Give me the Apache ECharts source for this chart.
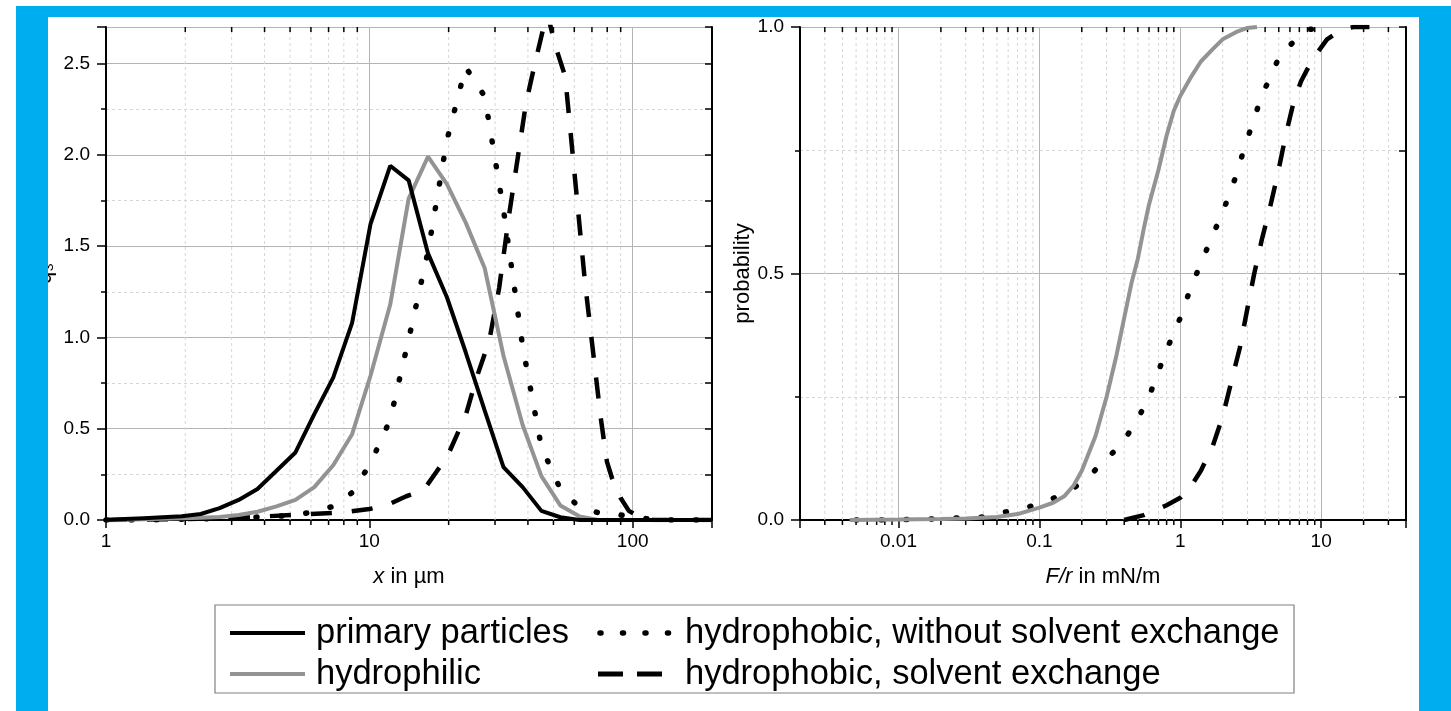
<!DOCTYPE html>
<html><head><meta charset="utf-8">
<script src="https://cdn.jsdelivr.net/npm/echarts@6/dist/echarts.min.js"></script>
<style>html,body{margin:0;padding:0;background:#fff}#c{width:1451px;height:711px}</style>
</head><body><div id="c"></div>
<script>
// ---- left panel: particle size distributions q3(x) ----
const sizeClasses = [1.00,1.18,1.39,1.64,1.94,2.29,2.70,3.19,3.76,4.44,5.24,6.18,7.29,8.60,10.1,12.0,14.1,16.7,19.7,23.2,27.4,32.3,38.2,45.0,53.1,62.7,74.0,87.3,103,122,144,170,200];
const q3Primary     = [0,0.005,0.01,0.015,0.02,0.033,0.065,0.11,0.17,0.27,0.37,0.58,0.78,1.08,1.62,1.94,1.86,1.46,1.22,0.92,0.60,0.29,0.18,0.05,0.015,0,0,0,0,0,0,0,0];
const q3Hydrophilic = [0,0.002,0.004,0.007,0.01,0.013,0.016,0.027,0.045,0.075,0.11,0.18,0.30,0.47,0.79,1.18,1.76,1.99,1.84,1.63,1.38,0.90,0.52,0.24,0.08,0.02,0,0,0,0,0,0,0];
const q3NoExchange  = [0,0,0,0.002,0.004,0.006,0.008,0.012,0.016,0.02,0.028,0.045,0.075,0.15,0.31,0.55,0.99,1.47,2.08,2.48,2.32,1.70,0.95,0.40,0.17,0.07,0.04,0.03,0.015,0,0,0,0];
const sizesExchange = [1.0,1.94,3.19,5.44,7.71,10.0,11.6,13.8,16.0,17.9,19.8,23.3,25.4,28.5,31.1,34.0,37.1,39.3,42.2,47.3,51.0,55.4,65.9,75.6,79.8,83.4,90.0,96.7,108,120,200];
const q3Exchange    = [0,0.005,0.012,0.03,0.04,0.06,0.08,0.13,0.16,0.26,0.35,0.58,0.77,0.98,1.27,1.68,2.04,2.28,2.48,2.78,2.59,2.43,1.30,0.56,0.32,0.23,0.12,0.05,0.01,0,0];

// ---- right panel: cumulative adhesion force distributions ----
const forceHydrophilic = [0.0045,0.01,0.02,0.03,0.05,0.07,0.1,0.125,0.15,0.175,0.2,0.25,0.3,0.35,0.4,0.45,0.5,0.55,0.6,0.7,0.8,0.9,1.0,1.2,1.4,1.7,2.0,2.5,3.0,3.5];
const probHydrophilic  = [0,0.001,0.002,0.003,0.006,0.012,0.025,0.035,0.048,0.07,0.10,0.17,0.25,0.33,0.41,0.48,0.53,0.59,0.64,0.71,0.78,0.83,0.86,0.90,0.93,0.955,0.975,0.99,0.998,1.0];
const forceNoExchange  = [0.005,0.008,0.012,0.017,0.026,0.04,0.055,0.08,0.11,0.17,0.22,0.29,0.38,0.49,0.6,0.74,0.87,1.0,1.15,1.35,1.6,1.9,2.2,2.5,2.75,3.05,3.45,3.75,4.5,5.1,7.0,7.8,11];
const probNoExchange   = [0,0,0.001,0.002,0.004,0.006,0.015,0.025,0.036,0.062,0.086,0.12,0.153,0.20,0.25,0.32,0.37,0.41,0.46,0.51,0.56,0.61,0.655,0.70,0.74,0.78,0.825,0.86,0.905,0.945,0.98,0.994,1.0];
const forceExchange    = [0.4,0.55,0.8,1.0,1.2,1.4,1.7,2.0,2.3,2.65,3.0,3.35,3.8,4.3,4.9,5.6,6.4,7.2,8.0,9.5,11,14,17,22];
const probExchange     = [0,0.01,0.03,0.045,0.07,0.10,0.15,0.21,0.28,0.35,0.43,0.50,0.57,0.63,0.70,0.78,0.85,0.89,0.915,0.95,0.975,0.995,1.0,1.0];

// minor (2..9 per decade) tick values for the log axes
const minorTicksLeft  = [2,3,4,5,6,7,8,9,20,30,40,50,60,70,80,90];
const minorTicksRight = [0.003,0.004,0.005,0.006,0.007,0.008,0.009,0.02,0.03,0.04,0.05,0.06,0.07,0.08,0.09,0.2,0.3,0.4,0.5,0.6,0.7,0.8,0.9,2,3,4,5,6,7,8,9,20,30];

const names = ['primary particles','hydrophilic','hydrophobic, without solvent exchange','hydrophobic, solvent exchange'];

const FONT = "'Liberation Sans', Arial, sans-serif";
const BLACK = '#000';
const GRAY = '#939393';
const zip = (a, b) => a.map((v, i) => [v, b[i]]);

function minorRender(yMax) {
  return function (params, api) {
    const x = api.value(0);
    const pb = api.coord([x, 0]);
    const pt = api.coord([x, yMax]);
    return { type: 'group', children: [
      { type: 'line', shape: { x1: pb[0], y1: pb[1], x2: pt[0], y2: pt[1] }, style: { stroke: '#d6d6d6', lineWidth: 1, lineDash: [3, 3] } },
      { type: 'line', shape: { x1: pb[0], y1: pb[1], x2: pb[0], y2: pb[1] + 5 }, style: { stroke: BLACK, lineWidth: 1.5 } },
      { type: 'line', shape: { x1: pt[0], y1: pt[1], x2: pt[0], y2: pt[1] + 5 }, style: { stroke: BLACK, lineWidth: 1.5 } }
    ]};
  };
}

const axisLineStyle = { show: true, lineStyle: { color: BLACK, width: 2 } };
const labelStyle = { color: BLACK, fontSize: 19, fontFamily: FONT };
const nameStyle = { color: BLACK, fontSize: 22, fontFamily: FONT, rich: { i: { fontStyle: 'italic', fontSize: 22, fontFamily: FONT, color: BLACK } } };
const majorSplit = { show: true, lineStyle: { color: '#b4b4b4', width: 1 } };
const minorSplit = { show: true, lineStyle: { color: '#d6d6d6', width: 1, type: [3, 3] } };

function bottomLog(gridIndex, min, max, name) {
  return { type: 'log', logBase: 10, gridIndex, min, max, position: 'bottom',
    name, nameLocation: 'middle', nameGap: 46, nameTextStyle: nameStyle,
    axisLine: axisLineStyle, axisTick: { show: true, inside: false, length: 8, lineStyle: { color: BLACK, width: 1.5 } },
    axisLabel: { ...labelStyle, margin: 12, showMinLabel: gridIndex === 0, showMaxLabel: false },
    splitLine: majorSplit, minorTick: { show: false }, minorSplitLine: { show: false } };
}
function topLog(gridIndex, min, max) {
  return { type: 'log', logBase: 10, gridIndex, min, max, position: 'top',
    axisLine: axisLineStyle, axisTick: { show: true, inside: true, length: 8, lineStyle: { color: BLACK, width: 1.5 } },
    axisLabel: { show: false }, splitLine: { show: false } };
}
function leftVal(gridIndex, max, name, nameGap) {
  return { type: 'value', gridIndex, min: 0, max, interval: 0.5, position: 'left',
    name, nameLocation: 'middle', nameGap, nameTextStyle: nameStyle,
    axisLine: axisLineStyle, axisTick: { show: true, inside: false, length: 9, lineStyle: { color: BLACK, width: 1.5 } },
    minorTick: { show: true, splitNumber: 2, length: 5, lineStyle: { color: BLACK, width: 1.5 } },
    axisLabel: { ...labelStyle, margin: 16, showMaxLabel: max === 1, formatter: v => v.toFixed(1) },
    splitLine: majorSplit, minorSplitLine: minorSplit };
}
function rightVal(gridIndex, max) {
  return { type: 'value', gridIndex, min: 0, max, interval: 0.25, position: 'right',
    axisLine: axisLineStyle, axisTick: { show: true, inside: true, length: 7, lineStyle: { color: BLACK, width: 1.5 } },
    axisLabel: { show: false }, splitLine: { show: false } };
}

const solidBlack = { color: BLACK, width: 4 };
const solidGray = { color: GRAY, width: 4 };
const dotted = { color: BLACK, width: 5.5, type: [1, 24], cap: 'round' };
const dashed = { color: BLACK, width: 4.5, type: [21, 20], cap: 'butt' };

function lineSeries(name, data, xi, yi, style) {
  return { type: 'line', name, data, xAxisIndex: xi, yAxisIndex: yi, showSymbol: false, symbol: 'none',
    lineStyle: style, itemStyle: { color: style.color }, z: 3, silent: true };
}

// legend drawn as graphic elements (samples + real text)
const legendText = { fill: BLACK, fontSize: 34.5, fontFamily: FONT, verticalAlign: 'middle', align: 'left' };
const legendGraphic = [
  { type: 'rect', z: 100, shape: { x: 215, y: 605, width: 1079, height: 88 }, style: { fill: '#fff', stroke: '#808080', lineWidth: 1.2 } },
  { type: 'line', z: 101, shape: { x1: 230, y1: 633, x2: 305, y2: 633 }, style: { stroke: BLACK, lineWidth: 4 } },
  { type: 'text', z: 101, x: 316, y: 633, style: { ...legendText, text: names[0] } },
  { type: 'line', z: 101, shape: { x1: 230, y1: 674, x2: 305, y2: 674 }, style: { stroke: GRAY, lineWidth: 4 } },
  { type: 'text', z: 101, x: 316, y: 674, style: { ...legendText, text: names[1] } },
  { type: 'line', z: 101, shape: { x1: 600, y1: 633, x2: 670, y2: 633 }, style: { stroke: BLACK, lineWidth: 5.5, lineDash: [1, 21.5], lineCap: 'round' } },
  { type: 'text', z: 101, x: 685, y: 633, style: { ...legendText, text: names[2] } },
  { type: 'line', z: 101, shape: { x1: 598, y1: 674, x2: 662, y2: 674 }, style: { stroke: BLACK, lineWidth: 5, lineDash: [25, 14] } },
  { type: 'text', z: 101, x: 685, y: 674, style: { ...legendText, text: names[3] } }
];

const option = {
  animation: false,
  backgroundColor: '#fff',
  grid: [
    { left: 106, top: 27, width: 606, height: 493 },
    { left: 800, top: 27, width: 606, height: 493 }
  ],
  xAxis: [
    bottomLog(0, 1, 200, '{i|x} in µm'),
    topLog(0, 1, 200),
    bottomLog(1, 0.002, 40, '{i|F/r} in mN/m'),
    topLog(1, 0.002, 40)
  ],
  yAxis: [
    leftVal(0, 2.7, 'q₃', 50),
    rightVal(0, 2.7),
    leftVal(1, 1, 'probability', 46),
    rightVal(1, 1)
  ],
  series: [
    { type: 'custom', name: 'minorLeft', xAxisIndex: 0, yAxisIndex: 0, clip: false, silent: true, z: 1,
      renderItem: minorRender(2.7), data: minorTicksLeft.map(v => [v, 0]) },
    { type: 'custom', name: 'minorRight', xAxisIndex: 2, yAxisIndex: 2, clip: false, silent: true, z: 1,
      renderItem: minorRender(1), data: minorTicksRight.map(v => [v, 0]) },
    lineSeries(names[2], zip(sizeClasses, q3NoExchange), 0, 0, dotted),
    lineSeries(names[3], zip(sizesExchange, q3Exchange), 0, 0, dashed),
    lineSeries(names[1], zip(sizeClasses, q3Hydrophilic), 0, 0, solidGray),
    lineSeries(names[0], zip(sizeClasses, q3Primary), 0, 0, solidBlack),
    lineSeries(names[2], zip(forceNoExchange, probNoExchange), 2, 2, dotted),
    lineSeries(names[3], zip(forceExchange, probExchange), 2, 2, dashed),
    lineSeries(names[1], zip(forceHydrophilic, probHydrophilic), 2, 2, solidGray)
  ],
  graphic: legendGraphic.concat([
    { type: 'rect', z: 100, shape: { x: 16, y: 6, width: 1435, height: 11 }, style: { fill: '#00AEEF' } },
    { type: 'rect', z: 100, shape: { x: 16, y: 6, width: 32, height: 705 }, style: { fill: '#00AEEF' } },
    { type: 'rect', z: 100, shape: { x: 1419, y: 6, width: 32, height: 705 }, style: { fill: '#00AEEF' } }
  ])
};

const chart = echarts.init(document.getElementById('c'), null, { renderer: 'canvas' });
chart.setOption(option);
</script>
</body></html>
